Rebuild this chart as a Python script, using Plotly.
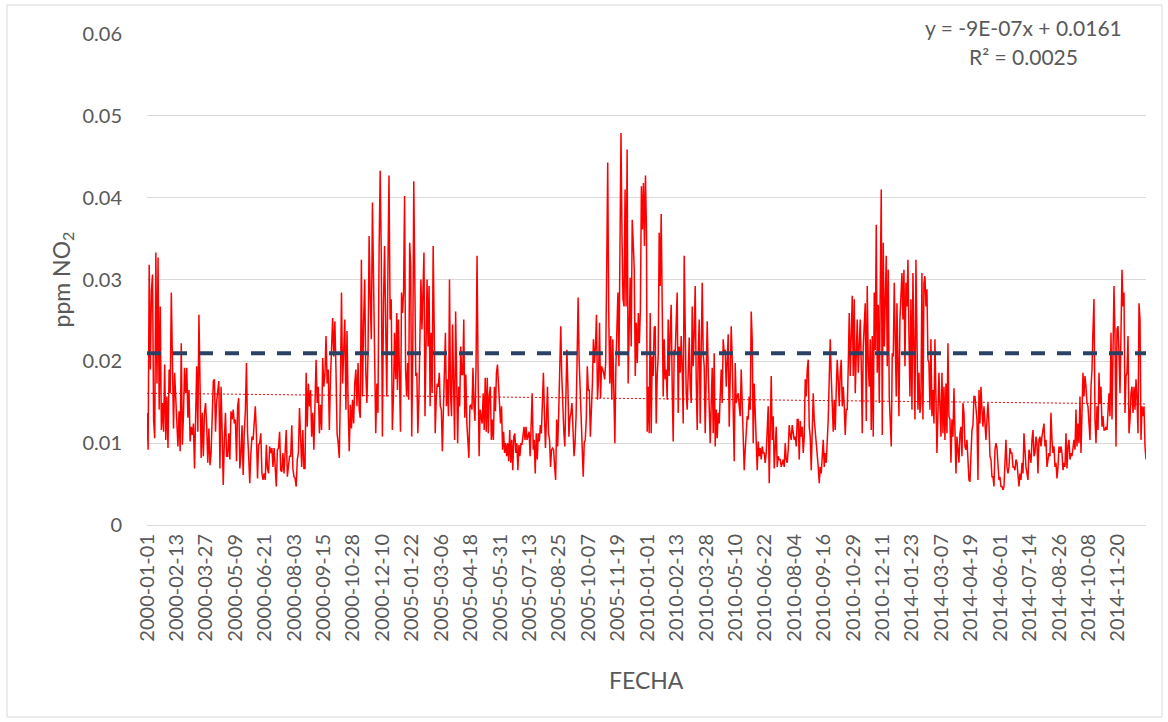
import numpy as np
import pandas as pd
import plotly.graph_objects as go

years = [2000, 2005, 2010, 2014]

# NO2 readings (ppm), in time order within each year
no2_2000 = [0.0137, 0.0092, 0.0318, 0.0190, 0.0286, 0.0306, 0.0127, 0.0106, 0.0333, 0.0173, 0.0327, 0.0141, 0.0267, 0.0116, 0.0149, 0.0114, 0.0196, 0.0104, 0.0157, 0.0094,
            0.0190, 0.0161, 0.0284, 0.0186, 0.0118, 0.0186, 0.0149, 0.0110, 0.0096, 0.0139, 0.0090, 0.0222, 0.0098, 0.0135, 0.0192, 0.0161, 0.0192, 0.0131, 0.0165, 0.0102,
            0.0120, 0.0110, 0.0124, 0.0069, 0.0116, 0.0194, 0.0114, 0.0257, 0.0171, 0.0082, 0.0137, 0.0084, 0.0137, 0.0149, 0.0122, 0.0076, 0.0118, 0.0073, 0.0088, 0.0137,
            0.0176, 0.0178, 0.0114, 0.0151, 0.0169, 0.0176, 0.0069, 0.0169, 0.0114, 0.0049, 0.0104, 0.0137, 0.0084, 0.0084, 0.0112, 0.0080, 0.0139, 0.0129, 0.0141, 0.0124,
            0.0129, 0.0078, 0.0145, 0.0155, 0.0069, 0.0086, 0.0122, 0.0061, 0.0112, 0.0139,
            0.0198, 0.0112, 0.0084, 0.0051, 0.0088, 0.0108, 0.0104, 0.0133, 0.0145, 0.0112, 0.0057, 0.0098, 0.0100, 0.0112, 0.0063, 0.0055, 0.0063, 0.0055, 0.0098, 0.0069,
            0.0063, 0.0096, 0.0088, 0.0094, 0.0071, 0.0094, 0.0063, 0.0047, 0.0092, 0.0094, 0.0114, 0.0067, 0.0065, 0.0088, 0.0063, 0.0086, 0.0116, 0.0059, 0.0071, 0.0084,
            0.0084, 0.0122, 0.0069, 0.0059, 0.0057, 0.0047, 0.0080, 0.0088, 0.0143, 0.0116, 0.0071, 0.0116, 0.0069, 0.0069, 0.0186, 0.0120, 0.0173, 0.0145, 0.0165, 0.0108,
            0.0137, 0.0092, 0.0153, 0.0202, 0.0149, 0.0169, 0.0112, 0.0147, 0.0116, 0.0204, 0.0169, 0.0184, 0.0231, 0.0173, 0.0190, 0.0116, 0.0178, 0.0210, 0.0253, 0.0206,
            0.0249, 0.0190, 0.0112, 0.0100, 0.0082, 0.0165, 0.0284, 0.0173, 0.0218, 0.0251, 0.0141,
            0.0237, 0.0145, 0.0090, 0.0147, 0.0118, 0.0153, 0.0124, 0.0173, 0.0190, 0.0145, 0.0198, 0.0141, 0.0131, 0.0324, 0.0157, 0.0247, 0.0300, 0.0186, 0.0149, 0.0210,
            0.0353, 0.0276, 0.0227, 0.0394, 0.0292, 0.0157, 0.0112, 0.0173, 0.0137, 0.0333, 0.0433, 0.0329, 0.0108, 0.0271, 0.0341, 0.0243, 0.0157, 0.0312, 0.0427, 0.0251,
            0.0276, 0.0116, 0.0157, 0.0235, 0.0178, 0.0259]

no2_2005 = [0.0165, 0.0251, 0.0178, 0.0114, 0.0284, 0.0259, 0.0284, 0.0402, 0.0190, 0.0157, 0.0198, 0.0153, 0.0345, 0.0316, 0.0108, 0.0206, 0.0420, 0.0276, 0.0182, 0.0186,
            0.0112, 0.0153, 0.0231, 0.0300, 0.0239, 0.0288, 0.0333, 0.0133, 0.0251, 0.0300, 0.0218, 0.0292, 0.0145, 0.0235, 0.0161, 0.0341, 0.0243, 0.0112, 0.0153, 0.0173,
            0.0169, 0.0186, 0.0145, 0.0141, 0.0090, 0.0145, 0.0210, 0.0235,
            0.0145, 0.0178, 0.0133, 0.0300, 0.0161, 0.0133, 0.0245, 0.0141, 0.0104, 0.0261, 0.0202, 0.0100, 0.0169, 0.0145, 0.0218, 0.0184, 0.0184, 0.0251, 0.0131, 0.0184,
            0.0124, 0.0098, 0.0082, 0.0145, 0.0147, 0.0141, 0.0192, 0.0145, 0.0127, 0.0194, 0.0329, 0.0186, 0.0084, 0.0141, 0.0129, 0.0124, 0.0161, 0.0116, 0.0180, 0.0114,
            0.0180, 0.0112, 0.0159, 0.0169, 0.0104, 0.0129, 0.0104, 0.0169, 0.0139, 0.0186, 0.0196, 0.0169, 0.0149, 0.0124, 0.0145, 0.0092, 0.0114, 0.0088, 0.0100, 0.0084,
            0.0100, 0.0078, 0.0116, 0.0076, 0.0104, 0.0067, 0.0108, 0.0112, 0.0088, 0.0100, 0.0067, 0.0098, 0.0084, 0.0100, 0.0098, 0.0112, 0.0120, 0.0104, 0.0120, 0.0104,
            0.0110, 0.0114, 0.0084, 0.0137, 0.0161, 0.0092, 0.0104, 0.0063, 0.0112, 0.0080, 0.0112, 0.0102, 0.0122, 0.0112, 0.0153, 0.0186, 0.0137,
            0.0094, 0.0129, 0.0169, 0.0112, 0.0104, 0.0071, 0.0092, 0.0094, 0.0092, 0.0071, 0.0055, 0.0129, 0.0096, 0.0137, 0.0194, 0.0243, 0.0182, 0.0133, 0.0114, 0.0096,
            0.0153, 0.0214, 0.0169, 0.0108, 0.0131, 0.0137, 0.0149, 0.0098, 0.0084, 0.0100, 0.0133, 0.0202, 0.0278, 0.0202, 0.0165, 0.0153, 0.0104, 0.0059, 0.0100, 0.0104,
            0.0129, 0.0194, 0.0165, 0.0165, 0.0108, 0.0137, 0.0173, 0.0227, 0.0198, 0.0218, 0.0257, 0.0153, 0.0178, 0.0247, 0.0155, 0.0194, 0.0190, 0.0186, 0.0178, 0.0198,
            0.0312, 0.0443, 0.0259, 0.0173, 0.0231, 0.0153, 0.0227, 0.0153, 0.0100, 0.0194, 0.0227, 0.0284, 0.0194, 0.0300, 0.0479, 0.0353, 0.0276, 0.0267, 0.0410, 0.0267,
            0.0459, 0.0173, 0.0267, 0.0302, 0.0218, 0.0373, 0.0345, 0.0312, 0.0182, 0.0247, 0.0198, 0.0259, 0.0222, 0.0263, 0.0414, 0.0361, 0.0418, 0.0341, 0.0427, 0.0357]

no2_2010 = [0.0114, 0.0169, 0.0112, 0.0259, 0.0112, 0.0206, 0.0182, 0.0241, 0.0243, 0.0124, 0.0182, 0.0206, 0.0357, 0.0292, 0.0380, 0.0239, 0.0157, 0.0227, 0.0178, 0.0190,
            0.0153, 0.0251, 0.0182, 0.0235, 0.0269, 0.0169, 0.0102, 0.0214, 0.0210, 0.0247, 0.0284, 0.0137, 0.0218, 0.0186, 0.0231, 0.0190, 0.0124, 0.0329, 0.0210, 0.0161,
            0.0141, 0.0182, 0.0229, 0.0169, 0.0149, 0.0267, 0.0194, 0.0235, 0.0292, 0.0178, 0.0116, 0.0206, 0.0251, 0.0124, 0.0243, 0.0296, 0.0210, 0.0194, 0.0112, 0.0182,
            0.0249, 0.0190, 0.0141, 0.0100, 0.0149, 0.0192, 0.0112, 0.0210, 0.0096, 0.0141, 0.0106, 0.0137, 0.0124, 0.0157, 0.0190, 0.0149, 0.0227, 0.0210, 0.0214, 0.0169,
            0.0210, 0.0233, 0.0120, 0.0210, 0.0243, 0.0202, 0.0145, 0.0078, 0.0198, 0.0149, 0.0157, 0.0161, 0.0145, 0.0133, 0.0190, 0.0137, 0.0094, 0.0067, 0.0092,
            0.0108, 0.0133, 0.0129, 0.0157, 0.0141, 0.0261, 0.0227, 0.0100, 0.0173, 0.0129, 0.0104, 0.0067, 0.0102, 0.0084, 0.0094, 0.0080, 0.0096, 0.0088, 0.0088, 0.0076,
            0.0088, 0.0112, 0.0145, 0.0051, 0.0116, 0.0182, 0.0104, 0.0133, 0.0069, 0.0104, 0.0120, 0.0071, 0.0084, 0.0080, 0.0080, 0.0071, 0.0076, 0.0080, 0.0071, 0.0100,
            0.0080, 0.0076, 0.0092, 0.0122, 0.0110, 0.0104, 0.0122, 0.0112, 0.0104, 0.0108, 0.0096, 0.0129, 0.0129, 0.0080, 0.0127, 0.0108, 0.0120, 0.0088, 0.0108, 0.0178,
            0.0157, 0.0190, 0.0202, 0.0120, 0.0108, 0.0067, 0.0137, 0.0161, 0.0129, 0.0116, 0.0096, 0.0092, 0.0071, 0.0051, 0.0071, 0.0063, 0.0088, 0.0104, 0.0071, 0.0088,
            0.0076, 0.0100, 0.0129, 0.0178, 0.0227, 0.0182, 0.0149, 0.0114, 0.0153, 0.0116, 0.0165, 0.0202, 0.0178, 0.0145, 0.0186, 0.0202, 0.0145, 0.0169,
            0.0145, 0.0110, 0.0141, 0.0141, 0.0194, 0.0259, 0.0182, 0.0251, 0.0280, 0.0182, 0.0276, 0.0161, 0.0210, 0.0251, 0.0186, 0.0231, 0.0251, 0.0198, 0.0112, 0.0218,
            0.0247, 0.0271, 0.0127, 0.0292, 0.0198, 0.0169, 0.0227, 0.0116, 0.0231, 0.0108, 0.0284, 0.0214, 0.0367, 0.0186, 0.0269, 0.0149, 0.0288, 0.0410, 0.0110, 0.0345,
            0.0218, 0.0267, 0.0329, 0.0194, 0.0312, 0.0157, 0.0129, 0.0096, 0.0210, 0.0206, 0.0296, 0.0235, 0.0157]

no2_2014 = [0.0271, 0.0186, 0.0133, 0.0251, 0.0284, 0.0308, 0.0251, 0.0312, 0.0194, 0.0296, 0.0267, 0.0324, 0.0231, 0.0157, 0.0276, 0.0141, 0.0308, 0.0210, 0.0129, 0.0324,
            0.0255, 0.0141, 0.0186, 0.0137, 0.0149, 0.0308, 0.0129, 0.0296, 0.0304, 0.0267, 0.0288, 0.0202, 0.0198, 0.0141, 0.0227, 0.0133, 0.0165, 0.0124, 0.0227, 0.0149,
            0.0088, 0.0137, 0.0186, 0.0145, 0.0108, 0.0186, 0.0112, 0.0169,
            0.0104, 0.0173, 0.0112, 0.0222, 0.0133, 0.0129, 0.0076, 0.0129, 0.0108, 0.0167, 0.0116, 0.0063, 0.0108, 0.0092, 0.0076, 0.0112, 0.0120, 0.0084, 0.0149, 0.0137,
            0.0096, 0.0092, 0.0104, 0.0080, 0.0055, 0.0053, 0.0088, 0.0116, 0.0122, 0.0157, 0.0157, 0.0141, 0.0129, 0.0055, 0.0165, 0.0124, 0.0169, 0.0141, 0.0120, 0.0145,
            0.0116, 0.0104, 0.0129, 0.0149, 0.0124, 0.0084, 0.0080, 0.0059, 0.0059, 0.0047, 0.0092, 0.0100, 0.0094, 0.0067, 0.0055, 0.0059, 0.0047, 0.0047, 0.0043, 0.0047,
            0.0076, 0.0104, 0.0071, 0.0063, 0.0071, 0.0094, 0.0088, 0.0088, 0.0071, 0.0071, 0.0067, 0.0080, 0.0076, 0.0063, 0.0047, 0.0063, 0.0055, 0.0076, 0.0063, 0.0112,
            0.0088, 0.0071, 0.0063, 0.0055, 0.0092, 0.0080, 0.0076, 0.0104, 0.0116, 0.0084, 0.0088, 0.0108, 0.0100, 0.0063, 0.0104, 0.0108, 0.0096, 0.0108, 0.0120, 0.0124,
            0.0096, 0.0104, 0.0071, 0.0084, 0.0088, 0.0084, 0.0137, 0.0104, 0.0088, 0.0096, 0.0071, 0.0076, 0.0057, 0.0071, 0.0096, 0.0088, 0.0096, 0.0088, 0.0067, 0.0076,
            0.0071, 0.0112, 0.0069, 0.0096, 0.0104, 0.0080, 0.0088, 0.0084, 0.0100, 0.0104, 0.0092, 0.0141, 0.0096, 0.0124, 0.0100, 0.0157, 0.0088, 0.0137, 0.0186, 0.0157,
            0.0182, 0.0169, 0.0149, 0.0145, 0.0129, 0.0104, 0.0169, 0.0190, 0.0239, 0.0276, 0.0129, 0.0100, 0.0145, 0.0116, 0.0186, 0.0149, 0.0169, 0.0120, 0.0133, 0.0116,
            0.0116, 0.0120, 0.0116, 0.0145, 0.0161, 0.0133, 0.0235, 0.0129, 0.0227, 0.0292, 0.0231, 0.0096, 0.0239, 0.0243, 0.0210, 0.0161, 0.0235, 0.0312, 0.0267, 0.0284,
            0.0137, 0.0182, 0.0186, 0.0231, 0.0112, 0.0129, 0.0161, 0.0169, 0.0137, 0.0169, 0.0141, 0.0178, 0.0153, 0.0112, 0.0271, 0.0251, 0.0104, 0.0145, 0.0133, 0.0145,
            0.0096, 0.0080]

series_by_year = {2000: no2_2000, 2005: no2_2005, 2010: no2_2010, 2014: no2_2014}

norma_ppm = 0.021            # dashed reference level
trend_slope = -9e-07         # from the trendline label
trend_intercept = 0.0161
trend_r2 = 0.0025
trend_label = "y = -9E-07x + 0.0161"
r2_label = "R² = 0.0025"

tick_labels = ["2000-01-01", "2000-02-13", "2000-03-27", "2000-05-09", "2000-06-21", "2000-08-03",
               "2000-09-15", "2000-10-28", "2000-12-10", "2005-01-22", "2005-03-06", "2005-04-18",
               "2005-05-31", "2005-07-13", "2005-08-25", "2005-10-07", "2005-11-19", "2010-01-01",
               "2010-02-13", "2010-03-28", "2010-05-10", "2010-06-22", "2010-08-04", "2010-09-16",
               "2010-10-29", "2010-12-11", "2014-01-23", "2014-03-07", "2014-04-19", "2014-06-01",
               "2014-07-14", "2014-08-26", "2014-10-08", "2014-11-20"]

# category axis: every day of the four years
dates = []
for yv in years:
    dates += [d.strftime("%Y-%m-%d") for d in pd.date_range(f"{yv}-01-01", f"{yv}-12-31")]
pos = {d: i for i, d in enumerate(dates)}
n = len(dates)

xs, ys = [], []
for yv in years:
    vals = series_by_year[yv]
    xs += list(np.linspace(pos[f"{yv}-01-01"], pos[f"{yv}-12-31"], len(vals)))
    ys += vals

GRAY = "#595959"
FONT = "Lato"

fig = go.Figure()
fig.add_trace(go.Scatter(x=xs, y=ys, mode="lines", line=dict(color="#FF0000", width=1.5),
                         name="NO2", showlegend=False, hoverinfo="skip"))
fig.add_trace(go.Scatter(x=[0, n - 1], y=[norma_ppm, norma_ppm], mode="lines",
                         line=dict(color="#2B4163", width=4, dash="14px,12px"),
                         showlegend=False, hoverinfo="skip"))
tx = [0, n - 1]
ty = [trend_slope * (i + 1) + trend_intercept for i in tx]
fig.add_trace(go.Scatter(x=tx, y=ty, mode="lines", line=dict(color="#FF0000", width=1, dash="2px,2px"),
                         showlegend=False, hoverinfo="skip"))

L, R, T, B = 147, 22, 34, 197
W, H = 1168, 722
pw, ph = W - L - R, H - T - B

def px(xp):
    return (xp - L) / pw

def py(yp):
    return (H - B - yp) / ph

fig.update_layout(
    width=W, height=H, margin=dict(l=L, r=R, t=T, b=B),
    paper_bgcolor="white", plot_bgcolor="white",
    font=dict(family=FONT, color=GRAY),
    xaxis=dict(range=[0, n - 1], tickvals=[pos[t] for t in tick_labels], ticktext=tick_labels,
               tickangle=-90, showgrid=False, zeroline=False, showline=True, linecolor="#D9D9D9",
               linewidth=1, ticks="", tickfont=dict(size=20, color=GRAY, family=FONT)),
    yaxis=dict(range=[0, 0.06], tick0=0, dtick=0.01, showgrid=True, gridcolor="#D9D9D9", gridwidth=1,
               zeroline=False, showline=False, ticks="", ticklabelstandoff=24,
               tickfont=dict(size=20, color=GRAY, family=FONT)),
    annotations=[
        dict(text="ppm NO<sub>2</sub>", x=px(62), y=0.5, xref="paper", yref="paper", textangle=-90,
             xanchor="center", yanchor="middle",
             showarrow=False, font=dict(size=23, color=GRAY, family=FONT)),
        dict(text="FECHA", x=0.5, y=py(680), xref="paper", yref="paper", showarrow=False,
             xanchor="center", yanchor="middle",
             font=dict(size=23, color=GRAY, family=FONT)),
        dict(text=trend_label, x=px(1023), y=py(27), xanchor="center", yanchor="middle",
             xref="paper", yref="paper", showarrow=False, font=dict(size=21, color=GRAY, family=FONT)),
        dict(text=r2_label, x=px(1023), y=py(56), xanchor="center", yanchor="middle",
             xref="paper", yref="paper", showarrow=False,
             font=dict(size=21, color=GRAY, family=FONT)),
    ],
    shapes=[dict(type="rect", xref="paper", yref="paper", x0=px(7), x1=px(1162), y0=py(717), y1=py(5),
                 line=dict(color="#D9D9D9", width=1), fillcolor="rgba(0,0,0,0)", layer="below")],
)

fig.write_html("out.html", config={"displayModeBar": False},
               post_script="document.body.style.margin='0';document.body.style.overflow='hidden';")
